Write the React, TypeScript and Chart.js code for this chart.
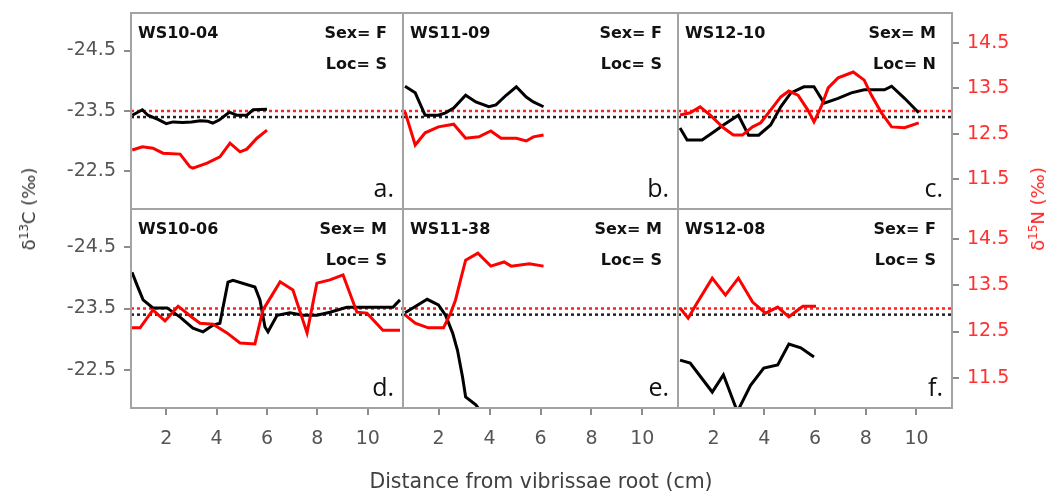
import React, { useEffect, useRef } from "react";
import { Chart, registerables } from "chart.js";
Chart.register(...registerables);

// ---------- axis ranges & ticks ----------
const X_MIN = 0.6;
const X_MAX = 11.4;
const C_MIN = -25.12;
const C_MAX = -21.88;
const N_MIN = 10.84;
const N_MAX = 15.16;
const X_TICKS = [2, 4, 6, 8, 10];
const C_TICKS = [-24.5, -23.5, -22.5];
const N_TICKS = [14.5, 13.5, 12.5, 11.5];
const C_REF = -23.4;
const N_REF = 13.0;

// ---------- panel labels ----------
const IDS = ["WS10-04", "WS11-09", "WS12-10", "WS10-06", "WS11-38", "WS12-08"];
const SEX = ["F", "F", "M", "M", "M", "F"];
const LOC = ["S", "S", "N", "S", "S", "S"];
const LETTERS = ["a.", "b.", "c.", "d.", "e.", "f."];

// ---------- series (x = cm, C = δ13C, N = δ15N) ----------
const aCx = [0.65, 1.05, 1.27, 1.67, 2.0, 2.27, 2.65, 3.0, 3.35, 3.65, 3.85, 4.1, 4.5, 4.8, 5.2, 5.45, 6.0];
const aCy = [-23.43, -23.52, -23.43, -23.36, -23.29, -23.32, -23.31, -23.32, -23.34, -23.33, -23.3, -23.35, -23.48, -23.43, -23.43, -23.52, -23.53];
const aNx = [0.65, 1.05, 1.47, 1.87, 2.55, 2.94, 3.06, 3.62, 4.13, 4.53, 4.93, 5.2, 5.6, 6.0];
const aNy = [12.14, 12.21, 12.18, 12.07, 12.05, 11.77, 11.74, 11.85, 11.99, 12.29, 12.1, 12.16, 12.4, 12.58];

const bCx = [0.68, 1.08, 1.47, 1.99, 2.27, 2.59, 3.06, 3.46, 3.97, 4.25, 4.65, 5.05, 5.44, 5.72, 6.12];
const bCy = [-23.91, -23.8, -23.43, -23.43, -23.47, -23.55, -23.76, -23.65, -23.57, -23.6, -23.76, -23.9, -23.73, -23.65, -23.57];
const bNx = [0.68, 1.08, 1.47, 1.99, 2.59, 3.06, 3.58, 4.05, 4.45, 5.05, 5.44, 5.72, 6.12];
const bNy = [12.98, 12.25, 12.52, 12.65, 12.71, 12.4, 12.43, 12.56, 12.4, 12.4, 12.34, 12.43, 12.47];

const cCx = [0.68, 0.96, 1.55, 1.99, 2.39, 2.98, 3.38, 3.78, 4.25, 4.65, 5.05, 5.56, 5.96, 6.36, 6.91, 7.43, 7.94, 8.74, 9.02, 9.53, 10.09];
const cCy = [-23.22, -23.02, -23.02, -23.15, -23.27, -23.43, -23.1, -23.1, -23.27, -23.57, -23.8, -23.9, -23.9, -23.63, -23.71, -23.8, -23.85, -23.85, -23.91, -23.71, -23.47];
const cNx = [0.68, 1.08, 1.47, 1.87, 2.39, 2.78, 3.14, 3.54, 3.86, 4.25, 4.65, 4.97, 5.33, 5.72, 5.96, 6.24, 6.52, 6.91, 7.51, 7.94, 8.22, 8.62, 9.02, 9.53, 10.09];
const cNy = [12.91, 12.96, 13.09, 12.91, 12.63, 12.47, 12.47, 12.65, 12.74, 13.02, 13.31, 13.44, 13.35, 13.02, 12.76, 13.09, 13.51, 13.73, 13.86, 13.68, 13.35, 12.96, 12.65, 12.63, 12.74];

const dCx = [0.64, 0.84, 1.08, 1.47, 2.03, 2.55, 3.06, 3.46, 3.86, 4.13, 4.45, 4.65, 5.52, 5.72, 5.92, 6.04, 6.4, 6.91, 7.43, 7.98, 8.5, 9.17, 9.97, 11.0, 11.28];
const dCy = [-24.09, -23.88, -23.64, -23.51, -23.51, -23.36, -23.18, -23.12, -23.23, -23.26, -23.93, -23.96, -23.85, -23.64, -23.2, -23.12, -23.39, -23.43, -23.39, -23.39, -23.44, -23.52, -23.52, -23.52, -23.64];
const dNx = [0.64, 0.96, 1.47, 1.95, 2.47, 3.02, 3.34, 3.86, 4.41, 4.93, 5.52, 5.84, 6.2, 6.52, 7.03, 7.59, 7.98, 8.5, 9.02, 9.57, 9.97, 10.6, 11.28];
const dNy = [12.58, 12.58, 12.97, 12.73, 13.05, 12.81, 12.68, 12.66, 12.47, 12.25, 12.23, 12.97, 13.29, 13.58, 13.4, 12.47, 13.55, 13.62, 13.73, 12.92, 12.9, 12.53, 12.53];

const eCx = [0.68, 1.55, 1.99, 2.27, 2.55, 2.74, 2.94, 3.06, 3.46, 3.7];
const eCy = [-23.43, -23.65, -23.56, -23.39, -23.1, -22.82, -22.38, -22.06, -21.93, -21.8];
const eNx = [0.68, 1.08, 1.59, 2.19, 2.47, 2.66, 2.86, 3.06, 3.54, 4.05, 4.57, 4.85, 5.56, 6.12];
const eNy = [12.86, 12.68, 12.58, 12.58, 12.9, 13.18, 13.62, 14.05, 14.2, 13.92, 14.01, 13.92, 13.97, 13.92];

const fCx = [0.68, 1.08, 1.95, 2.39, 2.94, 3.46, 3.98, 4.53, 4.97, 5.44, 5.96];
const fCy = [-22.66, -22.61, -22.14, -22.42, -21.82, -22.25, -22.53, -22.58, -22.92, -22.86, -22.71];
const fNx = [0.68, 1.0, 1.35, 1.95, 2.47, 2.98, 3.54, 4.05, 4.53, 4.97, 5.52, 6.04];
const fNy = [13.01, 12.79, 13.12, 13.66, 13.29, 13.66, 13.14, 12.9, 13.03, 12.82, 13.05, 13.05];

const SERIES = [
  { cx: aCx, cy: aCy, nx: aNx, ny: aNy },
  { cx: bCx, cy: bCy, nx: bNx, ny: bNy },
  { cx: cCx, cy: cCy, nx: cNx, ny: cNy },
  { cx: dCx, cy: dCy, nx: dNx, ny: dNy },
  { cx: eCx, cy: eCy, nx: eNx, ny: eNy },
  { cx: fCx, cy: fCy, nx: fNx, ny: fNy },
];

// ---------- layout (pixels) ----------
const W = 1055;
const H = 494;
const COL_X = [131, 403, 678, 952];
const ROW_Y = [13, 209, 408];
const LEFT_W = 90;
const RIGHT_W = 80;
const X_H = 50;
const TICK_FONT = { family: "DejaVu Sans", size: 19 };

const zip = (xs: number[], ys: number[]) => xs.map((x, i) => ({ x, y: ys[i] }));

const noPad = (sc: any) => {
  sc.paddingTop = 0;
  sc.paddingBottom = 0;
  sc.paddingLeft = 0;
  sc.paddingRight = 0;
};

const framePlugin = {
  id: "frame",
  afterDatasetsDraw(chart: any) {
    const { ctx, chartArea: a } = chart;
    ctx.save();
    ctx.strokeStyle = "#a3a3a3";
    ctx.lineWidth = 2;
    ctx.strokeRect(a.left, a.top, a.right - a.left, a.bottom - a.top);
    ctx.restore();
  },
};

const labelPlugin = {
  id: "panelLabels",
  afterDraw(chart: any, _args: any, opts: any) {
    const { ctx, chartArea: a } = chart;
    ctx.save();
    ctx.fillStyle = "#111";
    ctx.textBaseline = "alphabetic";
    ctx.font = "bold 16px 'DejaVu Sans'";
    ctx.textAlign = "left";
    ctx.fillText(opts.id, a.left + 7, a.top + 25);
    ctx.textAlign = "right";
    ctx.fillText("Sex= " + opts.sex, a.right - 16, a.top + 25);
    ctx.fillText("Loc= " + opts.loc, a.right - 16, a.top + 56);
    ctx.font = "25px 'Open Sans'";
    ctx.fillText(opts.letter, a.right - 9, a.bottom - 12);
    ctx.restore();
  },
};

function Panel({ idx }: { idx: number }) {
  const ref = useRef<HTMLCanvasElement | null>(null);
  useEffect(() => {
    const col = idx % 3;
    const row = Math.floor(idx / 3);
    const left = COL_X[col];
    const right = COL_X[col + 1];
    const top = ROW_Y[row];
    const bottom = ROW_Y[row + 1];
    const showL = col === 0;
    const showR = col === 2;
    const showX = row === 1;
    const s = SERIES[idx];
    const grid = { drawOnChartArea: false, drawTicks: true, tickLength: 7, color: "#8c8c8c", lineWidth: 2 };
    const chart = new Chart(ref.current as HTMLCanvasElement, {
      type: "line",
      data: {
        datasets: [
          { data: zip(s.nx, s.ny), yAxisID: "yN", borderColor: "#ff0000", borderWidth: 3, pointRadius: 0, tension: 0 },
          { data: zip(s.cx, s.cy), yAxisID: "yC", borderColor: "#000000", borderWidth: 3, pointRadius: 0, tension: 0 },
          { data: zip([X_MIN, X_MAX], [N_REF, N_REF]), yAxisID: "yN", borderColor: "#ff2020", borderWidth: 2.5, borderDash: [3, 3], pointRadius: 0 },
          { data: zip([X_MIN, X_MAX], [C_REF, C_REF]), yAxisID: "yC", borderColor: "#222222", borderWidth: 2.5, borderDash: [3, 3], pointRadius: 0 },
        ],
      },
      options: {
        responsive: false,
        animation: false,
        events: [],
        layout: {
          padding: {
            left: showL ? left - LEFT_W : left,
            right: showR ? W - right - RIGHT_W : W - right,
            top: top,
            bottom: showX ? H - bottom - X_H : H - bottom,
          },
        },
        plugins: {
          legend: { display: false },
          tooltip: { enabled: false },
          title: { display: false },
          panelLabels: { id: IDS[idx], sex: SEX[idx], loc: LOC[idx], letter: LETTERS[idx] },
        } as any,
        scales: {
          x: {
            type: "linear",
            min: X_MIN,
            max: X_MAX,
            display: showX,
            afterBuildTicks: (sc: any) => { sc.ticks = X_TICKS.map((v) => ({ value: v })); },
            afterFit: (sc: any) => { sc.height = showX ? X_H : 0; noPad(sc); },
            ticks: { font: TICK_FONT, color: "#555555", padding: 13, maxRotation: 0, callback: (v: any) => String(v) },
            grid,
            border: { display: false },
          },
          yC: {
            type: "linear",
            position: "left",
            reverse: true,
            min: C_MIN,
            max: C_MAX,
            display: showL,
            afterBuildTicks: (sc: any) => { sc.ticks = C_TICKS.map((v) => ({ value: v })); },
            afterFit: (sc: any) => { sc.width = showL ? LEFT_W : 0; noPad(sc); },
            ticks: { font: TICK_FONT, color: "#555555", padding: 8, callback: (v: any) => Number(v).toFixed(1) },
            grid,
            border: { display: false },
          },
          yN: {
            type: "linear",
            position: "right",
            min: N_MIN,
            max: N_MAX,
            display: showR,
            afterBuildTicks: (sc: any) => { sc.ticks = N_TICKS.map((v) => ({ value: v })); },
            afterFit: (sc: any) => { sc.width = showR ? RIGHT_W : 0; noPad(sc); },
            ticks: { font: TICK_FONT, color: "#ff3030", padding: 8, callback: (v: any) => Number(v).toFixed(1) },
            grid,
            border: { display: false },
          },
        },
      } as any,
      plugins: [framePlugin, labelPlugin],
    });
    return () => chart.destroy();
  }, [idx]);
  return (
    <canvas
      ref={ref}
      width={W}
      height={H}
      style={{ position: "absolute", left: 0, top: 0, width: W, height: H }}
    />
  );
}

export default function App() {
  return (
    <div style={{ position: "absolute", left: 0, top: 0, width: W, height: H, background: "#fff", overflow: "hidden" }}>
      {[0, 1, 2, 3, 4, 5].map((i) => (
        <Panel key={i} idx={i} />
      ))}
      <div
        style={{
          position: "absolute", left: 28, top: 209, transform: "translate(-50%, -50%) rotate(-90deg)",
          whiteSpace: "nowrap", fontFamily: "'DejaVu Sans'", fontSize: 18, color: "#333",
        }}
      >
        δ<sup style={{ fontSize: 12 }}>13</sup>C (‰)
      </div>
      <div
        style={{
          position: "absolute", left: 1037, top: 209, transform: "translate(-50%, -50%) rotate(-90deg)",
          whiteSpace: "nowrap", fontFamily: "'DejaVu Sans'", fontSize: 18, color: "#ff2020",
        }}
      >
        δ<sup style={{ fontSize: 12 }}>15</sup>N (‰)
      </div>
      <div
        style={{
          position: "absolute", left: 541, top: 481, transform: "translate(-50%, -50%)",
          whiteSpace: "nowrap", fontFamily: "'DejaVu Sans'", fontSize: 20.5, color: "#404040",
        }}
      >
        Distance from vibrissae root (cm)
      </div>
    </div>
  );
}
